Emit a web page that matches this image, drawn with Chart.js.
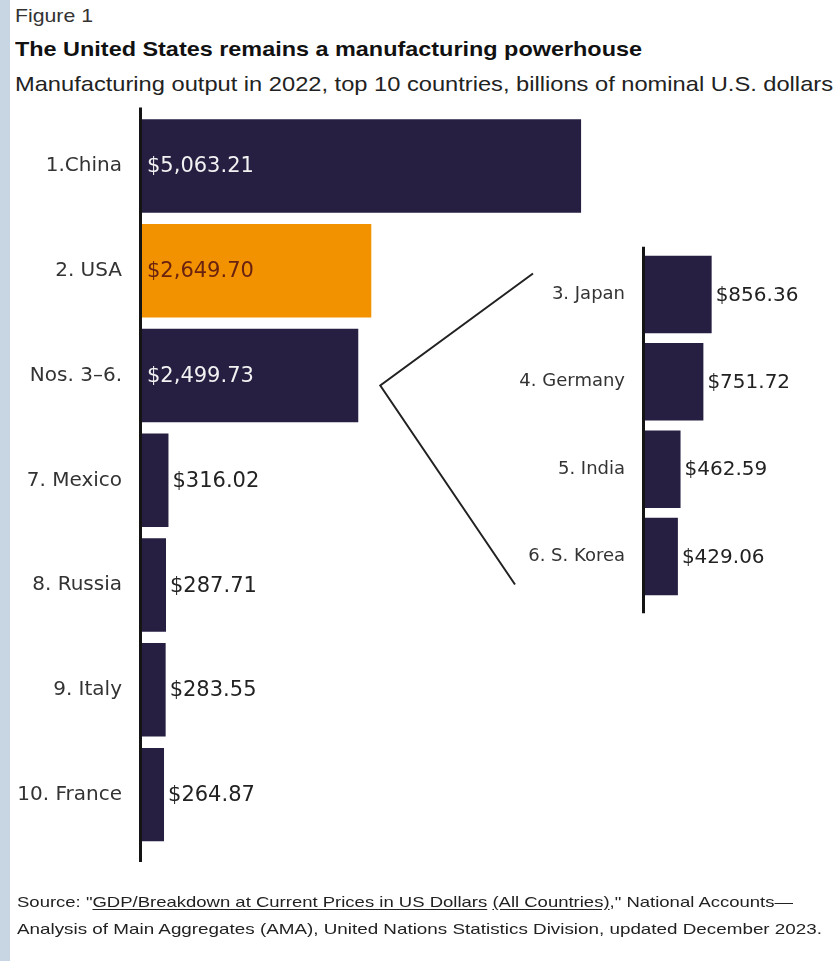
<!DOCTYPE html>
<html>
<head>
<meta charset="utf-8">
<title>Manufacturing output, 2022</title>
<script src="https://cdn.jsdelivr.net/npm/chart.js@4.4.1/dist/chart.umd.min.js"></script>
<style>
  html, body { margin: 0; padding: 0; background: #fff; }
  body { width: 834px; height: 961px; position: relative; overflow: hidden; font-family: "Liberation Sans", Arial, sans-serif; color: #222; }
  .edge { position: absolute; left: 0; top: 0; width: 10px; height: 961px; background: #c8d6e4; }
  .txt { position: absolute; left: 15px; white-space: nowrap; line-height: 1; transform-origin: 0 0; }
  #fig { top: 6px; font-size: 19px; color: #333; }
  #title { top: 38px; font-size: 21px; font-weight: bold; color: #111; }
  #sub { top: 73px; font-size: 21px; color: #222; }
  .src { left: 17px; font-size: 15px; color: #222; }
  .src u { text-underline-offset: 2px; }
  canvas { position: absolute; left: 0; top: 0; width: 834px; height: 961px; }
</style>
</head>
<body>
<div class="edge"></div>
<div class="txt" id="fig" data-w="78">Figure 1</div>
<div class="txt" id="title" data-w="627">The United States remains a manufacturing powerhouse</div>
<div class="txt" id="sub" data-w="818">Manufacturing output in 2022, top 10 countries, billions of nominal U.S. dollars</div>
<canvas id="main" width="834" height="961"></canvas>
<canvas id="detail" width="834" height="961"></canvas>
<div class="txt src" style="top:894px" data-w="776">Source: "<u>GDP/Breakdown at Current Prices in US Dollars</u> <u>(All Countries)</u>," National Accounts—</div>
<div class="txt src" style="top:921px" data-w="805">Analysis of Main Aggregates (AMA), United Nations Statistics Division, updated December 2023.</div>
<script>
// top 10 manufacturers, billions of nominal USD
const topLabels = ['1.China', '2. USA', 'Nos. 3–6.', '7. Mexico', '8. Russia', '9. Italy', '10. France'];
const topValues = [5063.21, 2649.70, 2499.73, 316.02, 287.71, 283.55, 264.87];

// breakdown of the grouped bar
const detailLabels = ['3. Japan', '4. Germany', '5. India', '6. S. Korea'];
const detailValues = [856.36, 751.72, 462.59, 429.06];

const highlight = '2. USA';
const groupLabel = 'Nos. 3–6.';

const NAVY = '#261f41';
const ORANGE = '#f39200';

// stretch header/source lines to their set widths
document.querySelectorAll('[data-w]').forEach(el => {
    const w = el.getBoundingClientRect().width;
    el.style.transform = `scaleX(${el.dataset.w / w})`;
});

const money = v => '$' + v.toLocaleString('en-US', { minimumFractionDigits: 2, maximumFractionDigits: 2 });

// vertical axis line that overhangs the plot area a little
const axisLine = {
    id: 'axisLine',
    afterDatasetsDraw(chart, args, opts) {
        const { ctx, chartArea } = chart;
        ctx.save();
        ctx.strokeStyle = opts.color;
        ctx.lineWidth = opts.width;
        ctx.beginPath();
        ctx.moveTo(chartArea.left - 0.5, chartArea.top - opts.above);
        ctx.lineTo(chartArea.left - 0.5, chartArea.bottom + opts.below);
        ctx.stroke();
        ctx.restore();
    }
};

// dollar labels: inside the bar when it fits, otherwise just past the end
const valueLabels = {
    id: 'valueLabels',
    afterDatasetsDraw(chart, args, opts) {
        const { ctx } = chart;
        const values = chart.data.datasets[0].data;
        ctx.save();
        ctx.font = opts.font;
        ctx.textBaseline = 'middle';
        ctx.textAlign = 'left';
        chart.getDatasetMeta(0).data.forEach((bar, i) => {
            const text = money(values[i]);
            const inside = bar.x - bar.base > ctx.measureText(text).width + 14;
            if (inside) {
                ctx.fillStyle = chart.data.labels[i] === highlight ? opts.onHighlight : opts.inside;
                ctx.fillText(text, bar.base + 6, bar.y + 1);
            } else {
                ctx.fillStyle = opts.outside;
                ctx.fillText(text, bar.x + 4, bar.y + 1);
            }
        });
        ctx.restore();
    }
};

// bracket from the grouped bar out to the breakdown
const bracket = {
    id: 'bracket',
    afterDraw(chart, args, opts) {
        const main = Chart.getChart('main');
        if (!main) return;
        const from = main.getDatasetMeta(0).data[topLabels.indexOf(groupLabel)];
        const bars = chart.getDatasetMeta(0).data;
        const first = bars[0], last = bars[bars.length - 1];
        const left = chart.chartArea.left;
        const { ctx } = chart;
        ctx.save();
        ctx.strokeStyle = opts.color;
        ctx.lineWidth = opts.width;
        ctx.beginPath();
        ctx.moveTo(left + opts.topDx, first.y + opts.topDy);
        ctx.lineTo(from.x + opts.gap, from.y + opts.drop);
        ctx.lineTo(left + opts.bottomDx, last.y + opts.bottomDy);
        ctx.stroke();
        ctx.restore();
    }
};

function barChart(id, labels, values, cfg) {
    return new Chart(document.getElementById(id), {
        type: 'bar',
        data: {
            labels,
            datasets: [{
                data: values,
                backgroundColor: labels.map(l => l === highlight ? ORANGE : NAVY),
                borderWidth: 0,
                barPercentage: cfg.barPct,
                categoryPercentage: 1
            }]
        },
        options: {
            indexAxis: 'y',
            responsive: false,
            animation: false,
            devicePixelRatio: 1,
            layout: { padding: { top: cfg.top, bottom: 961 - cfg.bottom, left: 0, right: 2 } },
            scales: {
                x: { display: false, min: 0, max: cfg.max },
                y: {
                    afterFit(scale) { scale.width = cfg.axisX; },
                    grid: { display: false, drawTicks: false },
                    border: { display: false },
                    ticks: {
                        color: '#333',
                        padding: 19,
                        crossAlign: 'near',
                        font: { family: 'DejaVu Sans', size: cfg.labelSize }
                    }
                }
            },
            plugins: {
                legend: { display: false },
                tooltip: { enabled: false },
                axisLine: { color: '#141414', width: 3, above: cfg.above, below: cfg.below },
                valueLabels: {
                    font: `${cfg.valueSize}px "DejaVu Sans"`,
                    inside: '#f2f2f2',
                    onHighlight: '#6a2210',
                    outside: '#222'
                },
                bracket: { color: '#222', width: 2, gap: 22, drop: 10, topDx: -111, topDy: -21, bottomDx: -129, bottomDy: 28 }
            }
        },
        plugins: cfg.extra ? [axisLine, valueLabels, ...cfg.extra] : [axisLine, valueLabels]
    });
}

barChart('main', topLabels, topValues, {
    axisX: 141, top: 113.6, bottom: 847, max: 7950, barPct: 0.892,
    labelSize: 20, valueSize: 21, above: 6, below: 15
});

barChart('detail', detailLabels, detailValues, {
    axisX: 644, top: 250.8, bottom: 600.2, max: 2380, barPct: 0.887,
    labelSize: 18, valueSize: 20, above: 4, below: 13, extra: [bracket]
});
</script>
</body>
</html>
